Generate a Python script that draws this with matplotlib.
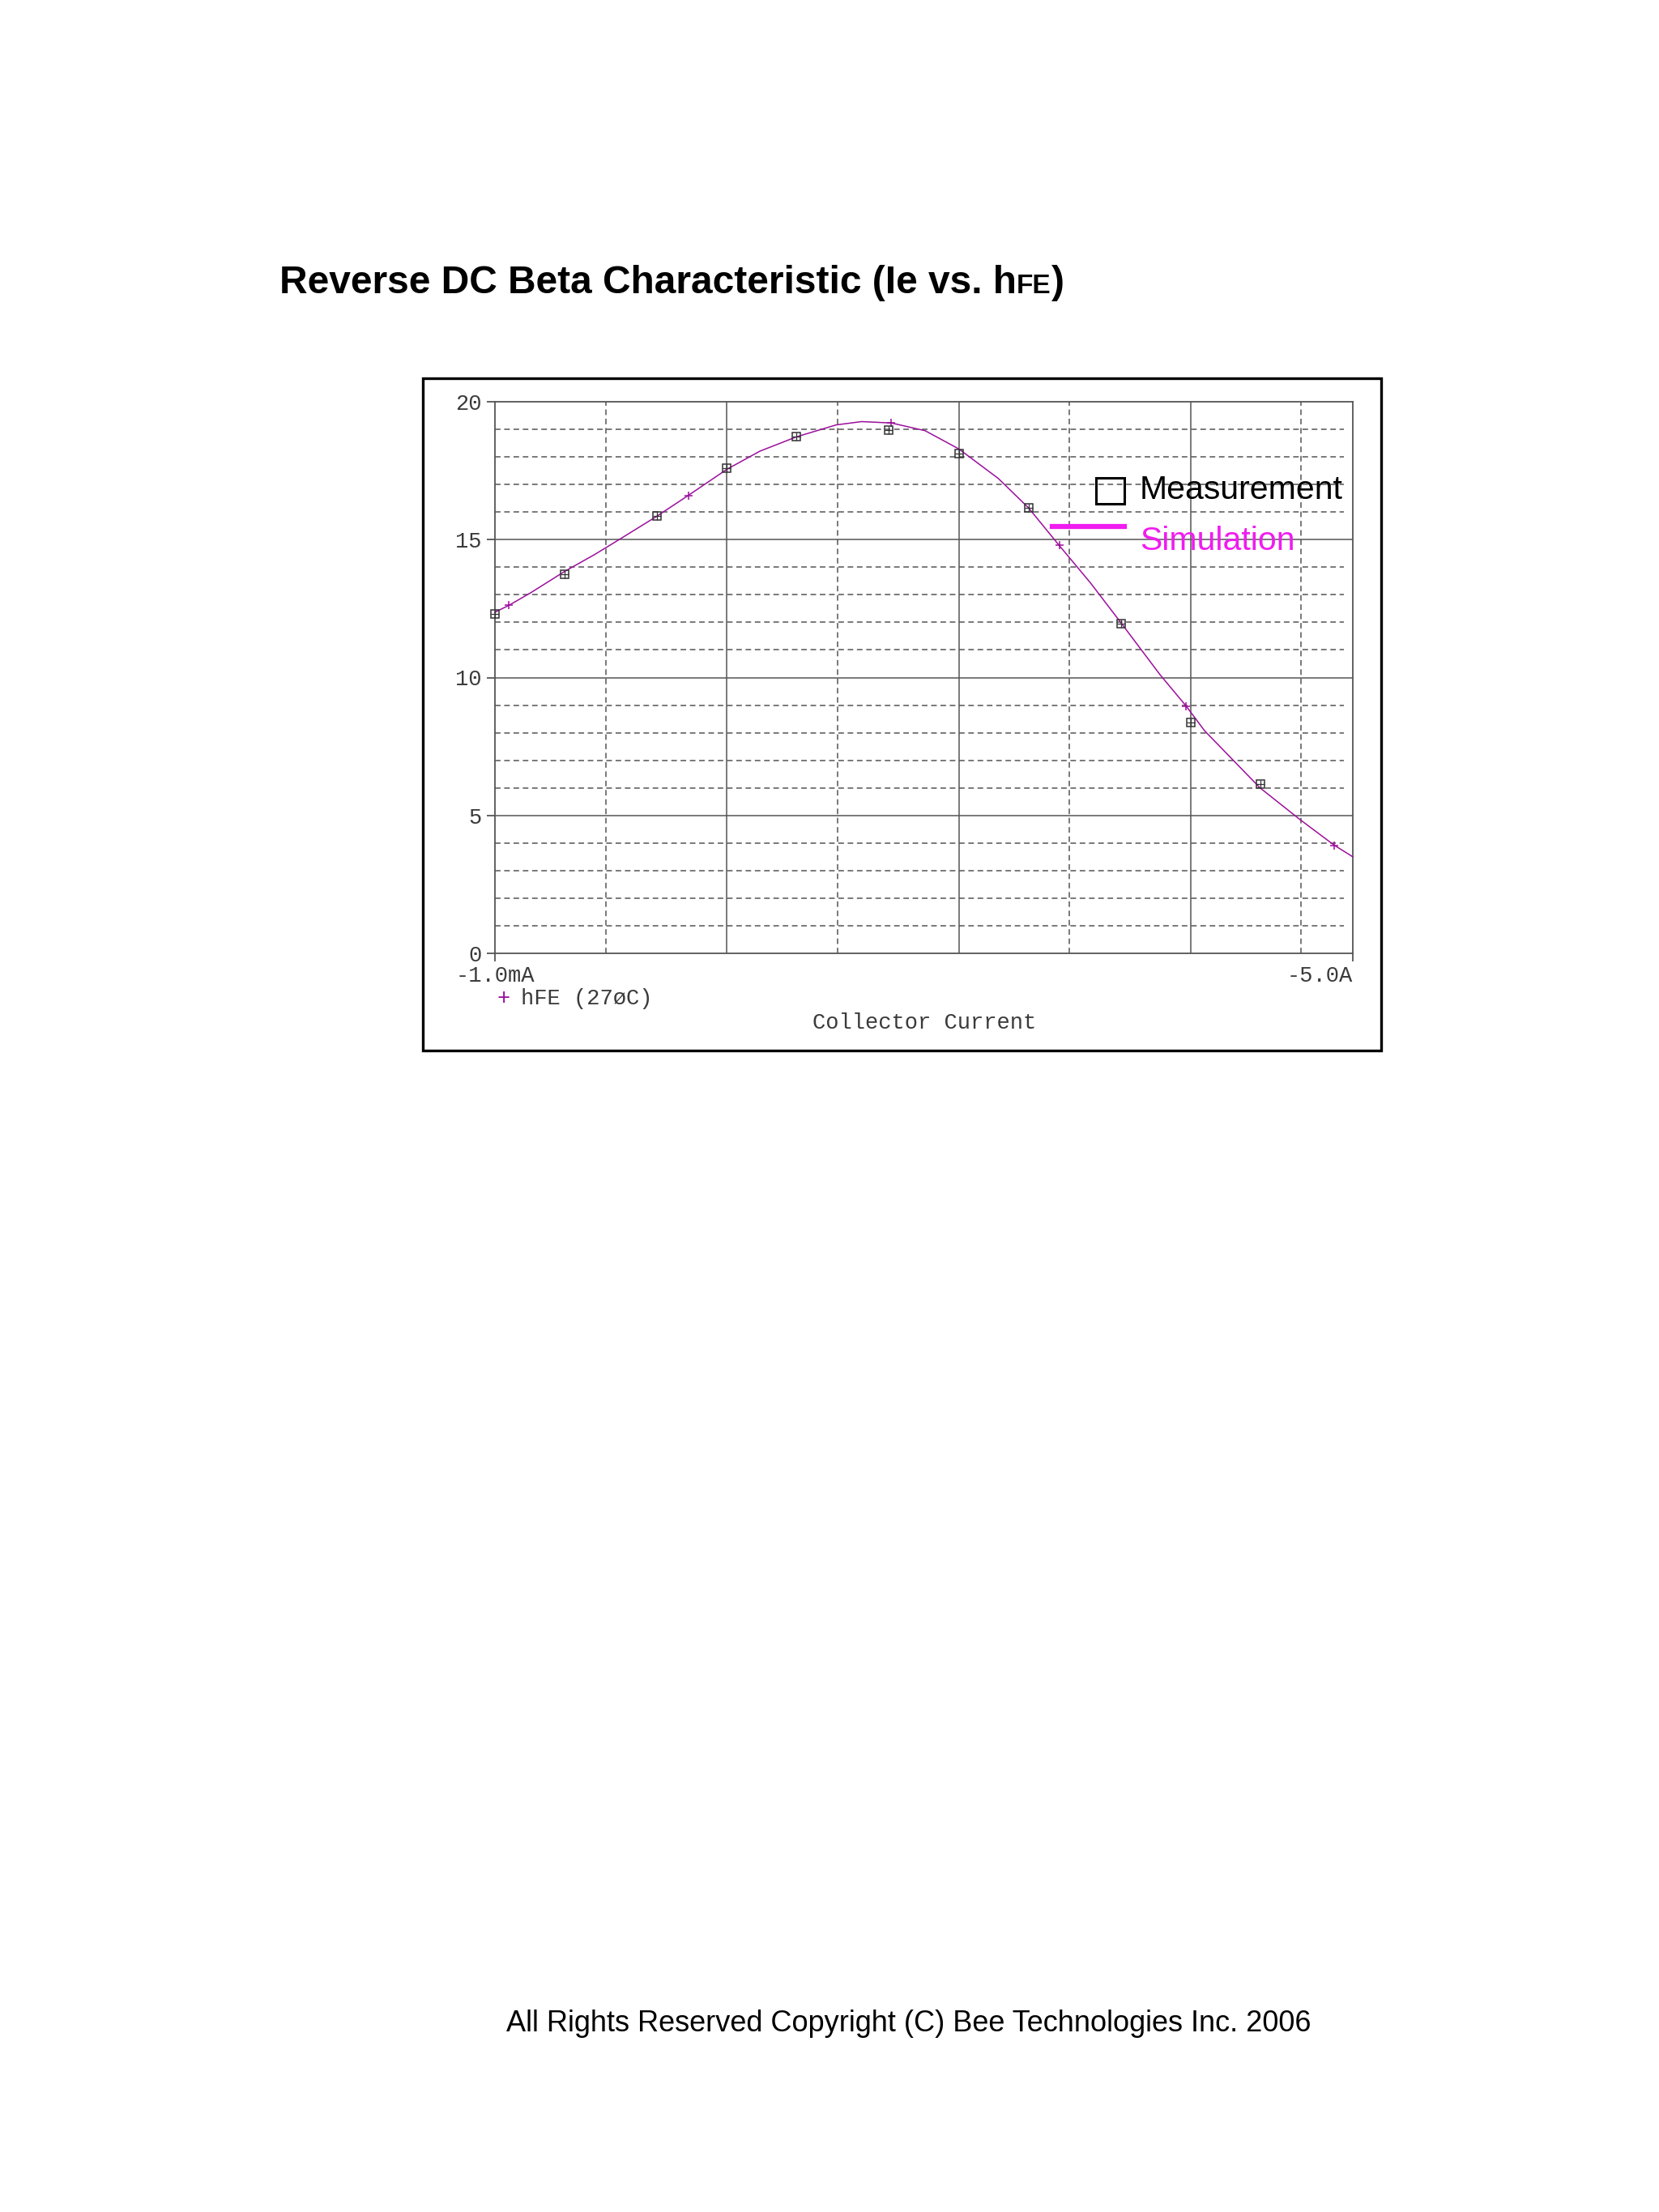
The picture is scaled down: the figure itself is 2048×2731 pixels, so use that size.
import numpy as np
import matplotlib
matplotlib.use("Agg")
import matplotlib.pyplot as plt
from matplotlib.patches import Rectangle
from matplotlib.lines import Line2D

W, H = 2048, 2731
DPI = 100

# collector current magnitude (A) and hFE, measured points
meas_ic = [1e-3, 2e-3, 5e-3, 10e-3, 20e-3, 50e-3, 100e-3, 200e-3, 500e-3, 1.0, 2.0]
meas_hfe = [12.32, 13.75, 15.87, 17.58, 18.73, 18.96, 18.11, 16.15, 11.96, 8.37, 6.13]

# simulated curve
sim_ic = [1.0e-3, 1.15e-3, 1.43e-3, 2.0e-3, 2.69e-3, 3.25e-3, 4.93e-3, 6.81e-3,
          10e-3, 13.9e-3, 20e-3, 29.6e-3, 38.1e-3, 51.2e-3, 71.6e-3, 0.100,
          0.148, 0.200, 0.271, 0.369, 0.500, 0.738, 0.955, 1.148, 1.99, 2.96,
          4.16, 5.0]
sim_hfe = [12.37, 12.62, 13.08, 13.85, 14.46, 14.88, 15.82, 16.60,
           17.55, 18.21, 18.73, 19.16, 19.28, 19.23, 18.95, 18.29,
           17.22, 16.15, 14.79, 13.44, 11.99, 10.10, 8.97, 8.07, 6.00, 4.85,
           3.92, 3.50]
sim_marks = [1, 7, 13, 18, 22, 26]

xtick_vals = [1e-3, 5.0]
xtick_labels = ["-1.0mA", "-5.0A"]
ytick_vals = [0, 5, 10, 15, 20]

SANS = "Liberation Sans"
MONO = "Liberation Mono"
GRID = "#555555"
TXT = "#3a3a3a"
CURVE = "#9c0f9c"
MAGENTA = "#f01cf0"
MONO_SIZE = 19.5

fig = plt.figure(figsize=(W / DPI, H / DPI), dpi=DPI)
fig.patch.set_facecolor("white")

def fx(px):
    return px / W

def fy(py):
    return 1 - py / H

# outer frame
fig.patches.append(Rectangle((fx(522), fy(1297)), fx(1705) - fx(522), fy(467) - fy(1297),
                             transform=fig.transFigure, fill=False, lw=2.4,
                             edgecolor="black", zorder=0))

ax_l, ax_r, ax_t, ax_b = 611, 1670, 496, 1177
ax = fig.add_axes([fx(ax_l), fy(ax_b), fx(ax_r) - fx(ax_l), fy(ax_t) - fy(ax_b)])
ax.set_xscale("log")
ax.set_xlim(1e-3, 5.0)
ax.set_ylim(0, 20)

# grid
for v in [1e-2, 1e-1, 1.0]:
    ax.axvline(v, color=GRID, lw=1.1, zorder=1)
for v in [3e-3, 3e-2, 3e-1, 3.0]:
    ax.axvline(v, color=GRID, lw=1.1, dashes=(4.5, 3), zorder=1)
for v in range(1, 20):
    if v % 5 == 0:
        ax.axhline(v, color=GRID, lw=1.1, zorder=1)
    else:
        ax.axhline(v, xmax=0.99, color=GRID, lw=1.1, dashes=(4.5, 3), zorder=1)

for s in ax.spines.values():
    s.set_color(GRID)
    s.set_linewidth(1.3)

ax.set_xticks(xtick_vals)
ax.set_xticklabels(xtick_labels)
ax.xaxis.set_minor_locator(matplotlib.ticker.NullLocator())
ax.set_yticks(ytick_vals)
ax.set_yticklabels([str(v) for v in ytick_vals])
ax.tick_params(axis="both", direction="out", length=7, width=1.3, color=GRID,
               labelcolor=TXT, labelsize=MONO_SIZE)
ax.tick_params(axis="y", pad=5)
ax.tick_params(axis="x", pad=4)
for lab in ax.get_xticklabels() + ax.get_yticklabels():
    lab.set_fontfamily(MONO)
ax.get_xticklabels()[1].set_horizontalalignment("right")
ax.get_xticklabels()[0].set_horizontalalignment("center")

# simulated curve
ax.plot(sim_ic, sim_hfe, color=CURVE, lw=1.1, marker="+", markevery=sim_marks,
        ms=7, mew=1.1, zorder=3, clip_on=False)
# measured points: boxed plus
ax.plot(meas_ic, meas_hfe, ls="none", marker="s", ms=6.5, mfc="none", mec="#333333",
        mew=1.1, zorder=4, clip_on=False)
ax.plot(meas_ic, meas_hfe, ls="none", marker="+", ms=6.5, mec="#333333",
        mew=0.9, zorder=4, clip_on=False)

# PSpice trace legend and axis title
fig.text(fx(622), fy(1233), "+", color=CURVE, fontsize=MONO_SIZE, family=MONO,
         ha="center", va="center")
fig.text(fx(643), fy(1233), "hFE (27øC)", color=TXT, fontsize=MONO_SIZE, family=MONO,
         ha="left", va="center")
fig.text(fx(1141), fy(1263), "Collector Current", color=TXT, fontsize=MONO_SIZE,
         family=MONO, ha="center", va="center")

# overlay legend
fig.patches.append(Rectangle((fx(1353), fy(622)), fx(1388) - fx(1353), fy(590) - fy(622),
                             transform=fig.transFigure, fill=False, lw=2.2,
                             edgecolor="black", zorder=5))
fig.lines.append(Line2D([fx(1299), fx(1388)], [fy(650), fy(650)],
                        transform=fig.transFigure, color=MAGENTA, lw=4.5, zorder=5))
fig.text(fx(1407), fy(605), "Measurement", fontsize=29.5, family=SANS, color="black",
         ha="left", va="center")
fig.text(fx(1407), fy(668), "Simulation", fontsize=29.5, family=SANS, color=MAGENTA,
         ha="left", va="center")

# title with small FE
renderer = fig.canvas.get_renderer()
t1 = fig.text(fx(345), fy(362), "Reverse DC Beta Characteristic (Ie vs. h",
              fontsize=34.5, fontweight="bold", family=SANS, ha="left", va="baseline")
bb = t1.get_window_extent(renderer)
t2 = fig.text(bb.x1 / W, fy(362), "FE", fontsize=24, fontweight="bold", family=SANS,
              ha="left", va="baseline")
bb2 = t2.get_window_extent(renderer)
fig.text(bb2.x1 / W, fy(362), ")", fontsize=34.5, fontweight="bold", family=SANS,
         ha="left", va="baseline")

# footer
fig.text(fx(625), fy(2508), "All Rights Reserved Copyright (C) Bee Technologies Inc. 2006",
         fontsize=26, family=SANS, color="black", ha="left", va="baseline")

fig.savefig("out.png", dpi=DPI, facecolor="white")
